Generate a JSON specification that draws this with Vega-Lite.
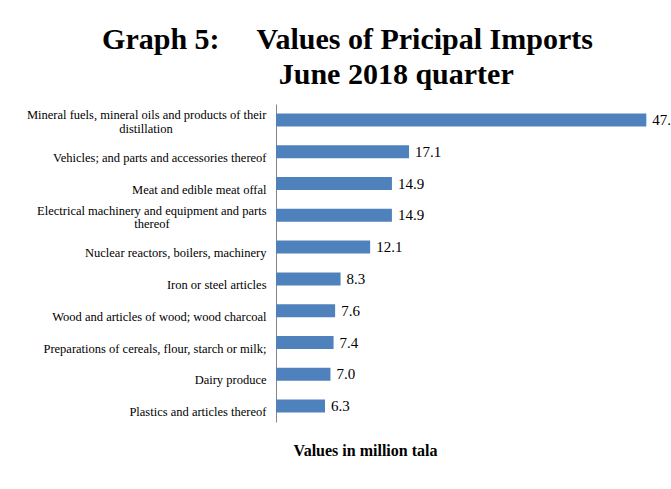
{
  "$schema": "https://vega.github.io/schema/vega-lite/v6.json",
  "width": 389,
  "height": 318,
  "autosize": {"type": "none"},
  "padding": {"left": 276, "top": 104, "right": 6, "bottom": 67},
  "background": "white",
  "title": {
    "text": ["Graph 5:\u00a0\u00a0\u00a0\u00a0 Values of Pricipal Imports", "\u200b\u00a0\u00a0\u00a0\u00a0\u00a0\u00a0\u00a0\u00a0\u00a0\u00a0\u00a0\u00a0\u00a0June 2018 quarter"],
    "anchor": "middle",
    "frame": "group",
    "dx": -123,
    "offset": 14,
    "font": "Liberation Serif",
    "fontSize": 30,
    "fontWeight": "bold",
    "color": "#000000",
    "lineHeight": 35
  },
  "data": {
    "values": [
      {"category": "Mineral fuels, mineral oils and products of their distillation", "value": 47.6},
      {"category": "Vehicles; and parts and accessories thereof", "value": 17.1},
      {"category": "Meat and edible meat offal", "value": 14.9},
      {"category": "Electrical machinery and equipment and parts thereof", "value": 14.9},
      {"category": "Nuclear reactors, boilers, machinery", "value": 12.1},
      {"category": "Iron or steel articles", "value": 8.3},
      {"category": "Wood and articles of wood; wood charcoal", "value": 7.6},
      {"category": "Preparations of cereals, flour, starch or milk;", "value": 7.4},
      {"category": "Dairy produce", "value": 7.0},
      {"category": "Plastics and articles thereof", "value": 6.3}
    ]
  },
  "encoding": {
    "y": {
      "field": "category",
      "type": "nominal",
      "sort": null,
      "scale": {"paddingInner": 0.59, "paddingOuter": 0.295},
      "axis": {
        "title": null,
        "ticks": false,
        "domainColor": "#868686",
        "domainWidth": 1,
        "labelFont": "Liberation Serif",
        "labelFontSize": 12.5,
        "labelColor": "#000000",
        "labelLimit": 400,
        "labelLineHeight": 13.5,
        "labelBaseline": "middle",
        "labelPadding": 10,
        "labelExpr": "datum.value === 'Mineral fuels, mineral oils and products of their distillation' ? ['Mineral fuels, mineral oils and products of their', 'distillation\u00a0\u00a0\u00a0\u00a0\u00a0\u00a0\u00a0\u00a0\u00a0\u00a0\u00a0\u00a0\u00a0\u00a0\u00a0\u00a0\u00a0\u00a0\u00a0\u00a0\u00a0\u00a0\u00a0\u00a0\u00a0\u00a0\u00a0\u00a0\u00a0\u00a0\u200b'] : datum.value === 'Electrical machinery and equipment and parts thereof' ? ['Electrical machinery and equipment and parts', 'thereof\u00a0\u00a0\u00a0\u00a0\u00a0\u00a0\u00a0\u00a0\u00a0\u00a0\u00a0\u00a0\u00a0\u00a0\u00a0\u00a0\u00a0\u00a0\u00a0\u00a0\u00a0\u00a0\u00a0\u00a0\u00a0\u00a0\u00a0\u00a0\u00a0\u00a0\u00a0\u200b'] : datum.label",
        "labelOffset": {
          "condition": {"test": "datum.value === 'Mineral fuels, mineral oils and products of their distillation' || datum.value === 'Electrical machinery and equipment and parts thereof'", "value": -4.5},
          "value": 6
        }
      }
    },
    "x": {
      "field": "value",
      "type": "quantitative",
      "scale": {"domain": [0, 50], "nice": false},
      "axis": {
        "title": "Values in million tala",
        "domain": false,
        "ticks": false,
        "labels": false,
        "grid": false,
        "titleFont": "Liberation Serif",
        "titleFontSize": 16,
        "titleFontWeight": "bold",
        "titleColor": "#000000",
        "titleX": 89,
        "titleY": 28,
        "titleAlign": "center",
        "titleBaseline": "middle"
      }
    }
  },
  "layer": [
    {"mark": {"type": "bar", "color": "#4F81BD"}},
    {
      "mark": {"type": "text", "align": "left", "baseline": "middle", "dx": 6, "font": "Liberation Serif", "fontSize": 15, "color": "#000000"},
      "encoding": {"text": {"field": "value", "type": "quantitative", "format": ".1f"}}
    }
  ],
  "config": {"view": {"stroke": null}}
}
